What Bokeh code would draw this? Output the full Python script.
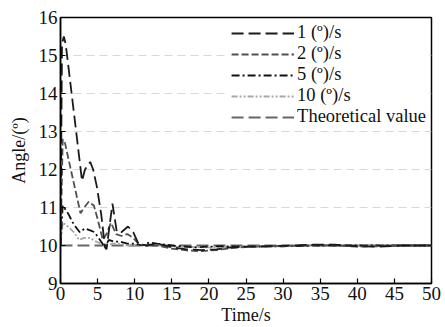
from bokeh.plotting import figure
from bokeh.models import Range1d, FixedTicker, Legend, LegendItem
from bokeh.embed import file_html
from bokeh.resources import INLINE

# ---- data ----
t1 = [0, 0.2, 0.45, 0.7, 1.5, 2.9, 3.3, 4.0, 4.4, 4.9, 5.5, 6.0, 6.2, 7.0, 7.6, 8.2, 9.1, 9.8, 10.5, 11.5,
      13, 15, 17, 19, 21, 23, 25, 28, 31, 34, 37, 40, 43, 46, 50]
v1 = [10.0, 15.3, 15.5, 15.3, 14.0, 11.7, 12.0, 12.2, 12.0, 11.55, 10.8, 9.95, 9.9, 11.1, 10.35, 10.35, 10.5, 10.35,
      10.05, 10.0, 10.05, 9.95, 9.9, 9.88, 9.9, 9.95, 9.97, 9.98, 10.0, 10.02, 10.02, 9.98, 9.97, 10.0, 10.0]

t2 = [0, 0.3, 0.6, 1.5, 2.7, 3.2, 3.8, 4.5, 5.0, 5.7, 6.2, 6.8, 7.5, 8.2, 9.0, 9.8, 10.5, 11.5,
      13, 15, 17, 19, 21, 23, 25, 28, 31, 34, 37, 40, 43, 46, 50]
v2 = [10.0, 12.8, 12.7, 11.9, 10.85, 11.0, 11.15, 11.05, 10.7, 10.15, 10.3, 10.6, 10.3, 10.25, 10.3, 10.2, 10.05,
      10.0, 10.0, 9.92, 9.87, 9.85, 9.88, 9.93, 9.96, 9.98, 9.99, 10.01, 10.0, 9.97, 9.98, 10.0, 10.0]

t5 = [0, 0.3, 1.0, 1.8, 2.6, 3.3, 4.0, 4.6, 5.3, 6.0, 6.5, 7.2, 8.0, 9.0, 10.0, 11, 12, 13,
      15, 18, 20, 22, 25, 30, 35, 40, 45, 50]
v5 = [10.0, 11.05, 10.85, 10.55, 10.35, 10.45, 10.4, 10.35, 10.15, 9.95, 10.15, 10.1, 10.1, 10.05, 10.05, 10.0,
      10.08, 10.05, 10.0, 9.95, 9.97, 9.98, 9.97, 9.98, 10.0, 10.0, 10.0, 10.0]

t10 = [0, 0.3, 1.0, 1.8, 2.5, 3.2, 4.0, 4.8, 5.5, 6.0, 7.0, 8.0, 9.0, 10.0, 12, 15, 20, 25, 30, 35, 40, 45, 50]
v10 = [10.0, 10.6, 10.5, 10.35, 10.15, 10.2, 10.2, 10.1, 10.05, 10.0, 10.05, 10.05, 10.0, 10.0, 10.02, 9.97, 9.95,
       9.97, 9.98, 10.0, 10.0, 10.0, 10.0]

t_th = [0, 50]
v_th = [10, 10]

labels = ["1 (º)/s", "2 (º)/s", "5 (º)/s", "10 (º)/s", "Theoretical value"]
x_ticks = [0, 5, 10, 15, 20, 25, 30, 35, 40, 45, 50]
y_ticks = [9, 10, 11, 12, 13, 14, 15, 16]

FONT = "Liberation Serif"

p = figure(width=445, height=327, output_backend="svg", toolbar_location=None,
           x_range=Range1d(0, 50), y_range=Range1d(9, 16),
           min_border_left=60, min_border_right=14, min_border_top=17, min_border_bottom=43)
p.background_fill_color = "white"
p.border_fill_color = "white"
p.outline_line_color = "black"
p.outline_line_width = 1.5

r_th = p.line(t_th, v_th, line_color="#666666", line_width=1.8, line_dash="12 5")
r10 = p.line(t10, v10, line_color="#a8a8a8", line_width=1.8, line_dash="6 2 2 2 2 2")
r5 = p.line(t5, v5, line_color="#111111", line_width=1.8, line_dash="8 3 2 3")
r2 = p.line(t2, v2, line_color="#505050", line_width=1.8, line_dash="7 3")
r1 = p.line(t1, v1, line_color="#1a1a1a", line_width=1.8, line_dash="12 5")

legend = Legend(items=[
    LegendItem(label=labels[0], renderers=[r1]),
    LegendItem(label=labels[1], renderers=[r2]),
    LegendItem(label=labels[2], renderers=[r5]),
    LegendItem(label=labels[3], renderers=[r10]),
    LegendItem(label=labels[4], renderers=[r_th]),
], location="top_right")
legend.label_text_font = FONT
legend.label_text_font_size = "18.5px"
legend.label_text_color = "#111111"
legend.label_height = 20
legend.glyph_height = 20
legend.glyph_width = 63
legend.label_standoff = 3
legend.spacing = 0
legend.padding = 3
legend.margin = 2
legend.border_line_alpha = 0
legend.background_fill_color = "white"
legend.background_fill_alpha = 1
p.add_layout(legend)

for ax in (p.xaxis[0], p.yaxis[0]):
    ax.axis_line_color = "black"
    ax.axis_line_width = 1.5
    ax.major_tick_in = 5
    ax.major_tick_out = 0
    ax.major_tick_line_color = "black"
    ax.major_tick_line_width = 1.2
    ax.minor_tick_line_color = None
    ax.major_label_text_font = FONT
    ax.major_label_text_font_size = "19px"
    ax.major_label_text_color = "#111111"
    ax.axis_label_text_font = FONT
    ax.axis_label_text_font_size = "18px"
    ax.axis_label_text_font_style = "normal"
    ax.axis_label_text_color = "#111111"

p.xaxis.ticker = FixedTicker(ticks=x_ticks)
p.yaxis.ticker = FixedTicker(ticks=y_ticks)
p.xaxis.axis_label = "Time/s"
p.yaxis.axis_label = "Angle/(º)"
p.xaxis.major_label_standoff = 3
p.yaxis.major_label_standoff = 3
p.xaxis.axis_label_standoff = 2
p.yaxis.axis_label_standoff = 7

p.xgrid.grid_line_color = None
p.ygrid.ticker = FixedTicker(ticks=[11, 12, 13, 14, 15])
p.ygrid.grid_line_color = "#d8d8d8"
p.ygrid.grid_line_dash = "8 5"
p.ygrid.grid_line_width = 1.2

open("out.html", "w").write(file_html(p, INLINE))
